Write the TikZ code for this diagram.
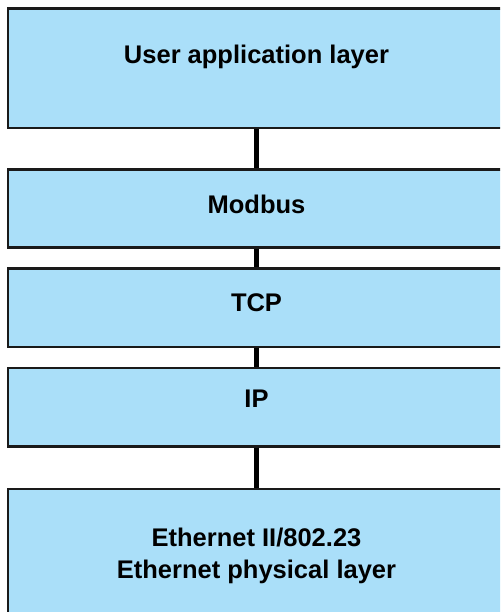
\documentclass[tikz,border=0pt]{standalone}
\usepackage{fontspec}
\setmainfont{Liberation Sans}
\usetikzlibrary{positioning}
\definecolor{layerblue}{HTML}{AADFF9}
\definecolor{layerline}{HTML}{1A1A1A}
\tikzset{
  layer/.style={draw=layerline, line width=2.4pt, fill=layerblue, minimum width=497.6pt, inner sep=0pt},
  caption/.style={font=\bfseries\fontsize{25.5}{31.6}\selectfont, align=center, anchor=base, inner sep=0pt},
  link/.style={draw=black, line width=4.7pt}
}
\begin{document}
\begin{tikzpicture}[x=1pt, y=-1pt]
    \clip (0,0) rectangle (500,612);
    \node[layer, anchor=north, minimum height=119.6pt] (user) at (256.5,7.5) {};
    \node[layer, minimum height=77.6pt, below=39pt of user] (modbus) {};
    \node[layer, minimum height=78.3pt, below=18.7pt of modbus] (tcp) {};
    \node[layer, minimum height=78.2pt, below=19pt of tcp] (ip) {};
    \node[layer, minimum height=140pt, below=40pt of ip] (eth) {};
    \node[caption] (userTxt) at ([yshift=-55.8pt]user.north) {User application layer};
    \node[caption] (modbusTxt) at ([yshift=-45pt]modbus.north) {Modbus};
    \node[caption] (tcpTxt) at ([yshift=-44.7pt]tcp.north) {TCP};
    \node[caption] (ipTxt) at ([yshift=-40.6pt]ip.north) {IP};
    \node[caption] (ethTxt) at ([yshift=-91pt]eth.north) {Ethernet II/802.23\\Ethernet physical layer};
    \draw[link] (user) -- (modbus);
    \draw[link] (modbus) -- (tcp);
    \draw[link] (tcp) -- (ip);
    \draw[link] (ip) -- (eth);
\end{tikzpicture}
\end{document}
